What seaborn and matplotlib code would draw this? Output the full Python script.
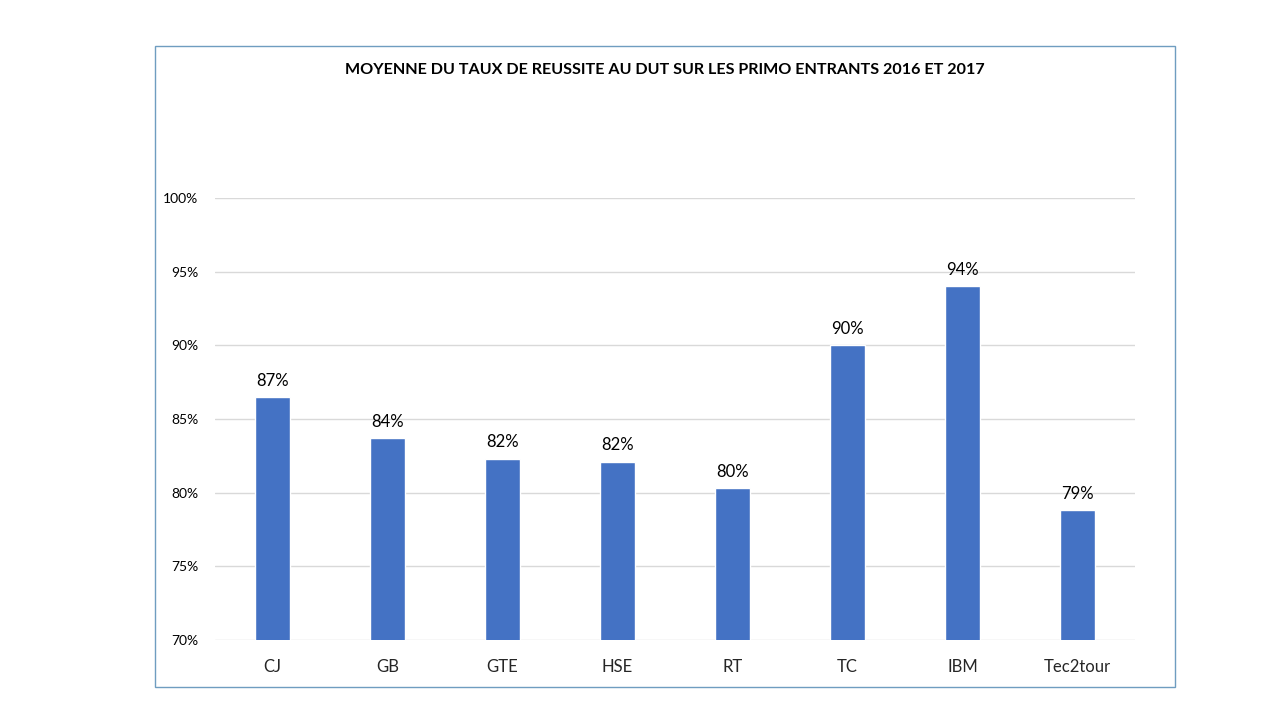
import matplotlib
matplotlib.use("Agg")
import matplotlib.pyplot as plt
import matplotlib.patches as patches
from matplotlib.ticker import FuncFormatter
import seaborn as sns
import pandas as pd

categories = ["CJ", "GB", "GTE", "HSE", "RT", "TC", "IBM", "Tec2tour"]
taux = [86.5, 83.7, 82.3, 82.1, 80.3, 90.0, 94.0, 78.8]
labels = ["87%", "84%", "82%", "82%", "80%", "90%", "94%", "79%"]

df = pd.DataFrame({"filiere": categories, "taux": taux})

sns.set_style("white")
plt.rcParams["font.family"] = ["Lato", "DejaVu Sans"]

fig = plt.figure(figsize=(12.8, 7.2), dpi=100)
ax = fig.add_axes([215 / 1280, 1 - 640 / 720, 920 / 1280, 442 / 720])

sns.barplot(data=df, x="filiere", y="taux", color="#4472C4", width=0.3,
            saturation=1, ax=ax, zorder=3)

ax.set_ylim(70, 100)
ax.set_yticks([70, 75, 80, 85, 90, 95, 100])
ax.yaxis.set_major_formatter(FuncFormatter(lambda v, p: f"{v:.0f}%"))
ax.grid(axis="y", color="#D9D9D9", linewidth=1, zorder=0)
ax.set_xlim(-0.5, len(categories) - 0.5)
for s in ax.spines.values():
    s.set_visible(False)
ax.tick_params(axis="y", length=0, labelsize=10, pad=12, colors="#000000")
ax.tick_params(axis="x", length=0, labelsize=12, pad=14)
ax.set_xlabel("")
ax.set_ylabel("")

for i, (v, t) in enumerate(zip(taux, labels)):
    ax.annotate(t, (i, v), xytext=(0, 6), textcoords="offset points",
                ha="center", va="bottom", fontsize=12, color="#000000")

fig.text(665 / 1280, 1 - 70 / 720,
         "MOYENNE DU TAUX DE REUSSITE AU DUT SUR LES PRIMO ENTRANTS 2016 ET 2017",
         ha="center", va="center", fontsize=11.6, fontweight="bold", color="#000000")

border = patches.Rectangle((155 / 1280, 1 - 687 / 720), 1020 / 1280, 641 / 720,
                           transform=fig.transFigure, fill=False,
                           edgecolor="#6F9DC0", linewidth=1.0)
fig.patches.append(border)

fig.savefig("out.png", dpi=100, facecolor="white")
